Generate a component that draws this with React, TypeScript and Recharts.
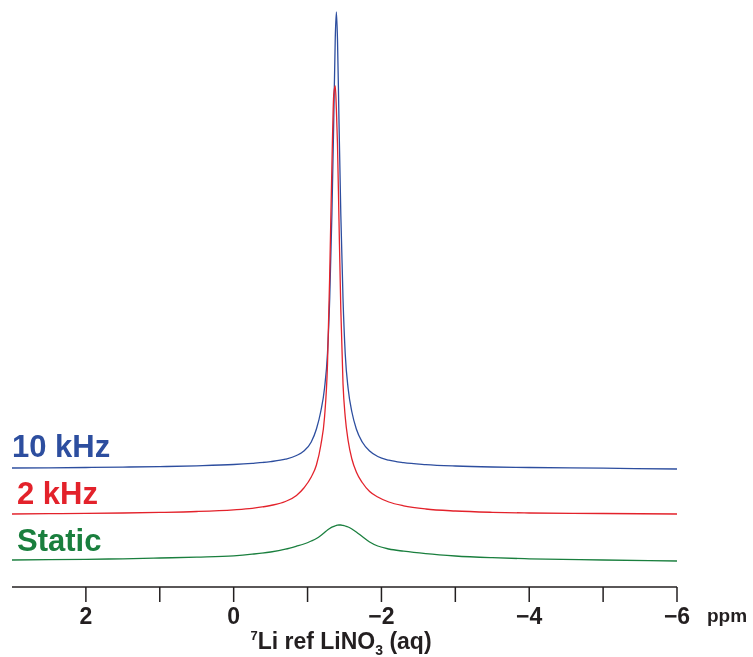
import { LineChart, Line, XAxis, YAxis, Customized } from "recharts";

// chemical shift, ppm (dense around the -1.4 ppm line)
const ppm = [
  3, 2.5, 2, 1.5, 1, 0.5, 0, -0.25, -0.5, -0.7, -0.85, -0.95, -1.05, -1.12,
  -1.18, -1.23, -1.27, -1.3, -1.33, -1.355, -1.375, -1.39, -1.405, -1.425,
  -1.45, -1.48, -1.51, -1.55, -1.6, -1.66, -1.74, -1.84, -1.95, -2.1, -2.3,
  -2.6, -3, -3.5, -4, -5, -6,
];

// stacked intensities (arbitrary units, vertical offsets included)
const khz10 = [
  119, 119.2, 119.5, 119.9, 120.4, 121.2, 122.5, 123.7, 125.4, 127.8, 131.5,
  136, 145, 158, 176, 199, 234, 289, 374, 469, 549, 575, 548, 468, 373, 288,
  233, 198, 175, 158, 145, 136, 130.5, 126.8, 124.3, 122.4, 121, 120, 119.5,
  118.8, 118,
];
const khz2 = [
  73, 73.3, 73.6, 74, 74.6, 75.5, 77.2, 78.7, 81.5, 85.5, 91.5, 99, 110, 122,
  142, 170, 223, 313, 423, 493, 501, 478, 443, 368, 278, 203, 170, 146, 128,
  115, 104.5, 95.5, 90, 85, 81.2, 78, 76, 74.7, 74, 73.5, 73,
];
const staticSpec = [
  27, 27.3, 27.7, 28.2, 29, 29.9, 31.2, 32.8, 35, 37.8, 40.8, 43, 46, 48.5,
  51.5, 54.5, 57, 58.5, 59.8, 60.6, 61.2, 61.6, 61.9, 62, 62, 61.6, 61, 60, 58,
  55, 50.5, 45, 41, 38, 35.8, 33.3, 31, 29.3, 28.2, 27, 26,
];

const xTicks = [2, 1, 0, -1, -2, -3, -4, -5, -6];

const data = ppm.map((p, i) => ({
  ppm: p,
  k10: khz10[i],
  k2: khz2[i],
  st: staticSpec[i],
}));

const BLUE = "#2d4e9f";
const RED = "#e3222b";
const GREEN = "#1a7f3e";
const INK = "#231f20";
const FONT = "'Liberation Sans', Arial, sans-serif";

const fmtTick = (v: number) => {
  if (v % 2 !== 0) return "";
  return v < 0 ? `\u2212${Math.abs(v)}` : `${v}`;
};

const PpmTick = (props: any) => {
  const { x, y, payload } = props;
  return (
    <text
      x={x}
      y={y}
      dy={16}
      textAnchor="middle"
      fontFamily={FONT}
      fontWeight="bold"
      fontSize={23}
      fill={INK}
    >
      {fmtTick(payload.value)}
    </text>
  );
};

const Annotations = () => (
  <g fontFamily={FONT} fontWeight="bold">
    <text x={4} y={449} fontSize={31} fill={BLUE}>
      10 kHz
    </text>
    <text x={9} y={496} fontSize={31} fill={RED}>
      2 kHz
    </text>
    <text x={9} y={543} fontSize={31} fill={GREEN}>
      Static
    </text>
    <text x={699} y={614} fontSize={19} fill={INK}>
      ppm
    </text>
    <text x={333} y={641} fontSize={23} fill={INK} textAnchor="middle">
      <tspan fontSize={13} dy={-9}>
        7
      </tspan>
      <tspan dy={9}>Li ref LiNO</tspan>
      <tspan fontSize={14} dy={6}>
        3
      </tspan>
      <tspan dy={-6}> (aq)</tspan>
    </text>
  </g>
);

export default function App() {
  return (
    <div style={{ position: "fixed", left: 8, top: 8 }}>
      <LineChart
        width={745}
        height={649}
        data={data}
        margin={{ top: 2, right: 76, left: 4, bottom: 40 }}
      >
        <XAxis
          dataKey="ppm"
          type="number"
          domain={[-6, 3]}
          reversed
          ticks={xTicks}
          interval={0}
          height={30}
          tickSize={15}
          tickMargin={6}
          stroke={INK}
          strokeWidth={1.5}
          tick={<PpmTick />}
        />
        <YAxis hide type="number" domain={[0, 577]} />
        <Line
          type="monotone"
          dataKey="k10"
          stroke={BLUE}
          strokeWidth={1.3}
          dot={false}
          isAnimationActive={false}
        />
        <Line
          type="monotone"
          dataKey="k2"
          stroke={RED}
          strokeWidth={1.3}
          dot={false}
          isAnimationActive={false}
        />
        <Line
          type="monotone"
          dataKey="st"
          stroke={GREEN}
          strokeWidth={1.3}
          dot={false}
          isAnimationActive={false}
        />
        <Customized component={Annotations} />
      </LineChart>
    </div>
  );
}
